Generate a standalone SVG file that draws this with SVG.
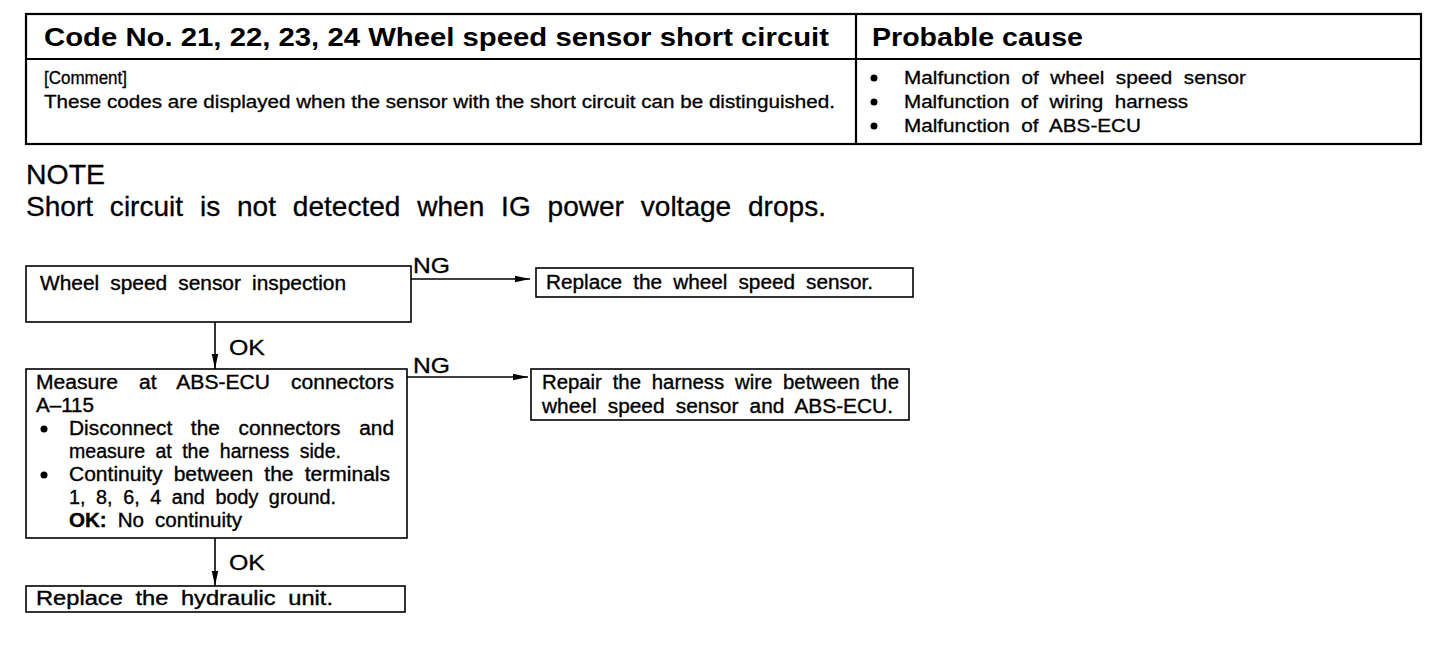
<svg xmlns="http://www.w3.org/2000/svg" width="1456" height="650" viewBox="0 0 1456 650">
<style>
text{font-family:"Liberation Sans",Arial,sans-serif;fill:#000}
.hd{font-size:26px;font-weight:bold}
.sm{font-size:18px;stroke:#000;stroke-width:0.3}
.ws{word-spacing:5px}
.fc{font-size:19.5px;stroke:#000;stroke-width:0.35;word-spacing:5px}
.lb{font-size:22px;stroke:#000;stroke-width:0.3}
.nt{font-size:28px;stroke:#000;stroke-width:0.3}
.wn{word-spacing:9px}
.box{fill:#fff;stroke:#000;stroke-width:1.6}
.tb{fill:none;stroke:#000;stroke-width:2.2}
.cn{fill:none;stroke:#000;stroke-width:1.6}
</style>
<defs>
<marker id="ah" viewBox="0 0 15 8" refX="15" refY="4" markerWidth="15" markerHeight="8" markerUnits="userSpaceOnUse" orient="auto">
<path d="M0,0.8 L15,4 L0,7.2 Z" fill="#000"/>
</marker>
</defs>
<rect width="1456" height="650" fill="#fff"/>

<g id="table">
<rect class="tb" x="26" y="14" width="1395" height="130"/>
<line class="tb" x1="26" y1="59" x2="1421" y2="59"/>
<line class="tb" x1="856" y1="14" x2="856" y2="144"/>
<text class="hd" x="44" y="46" textLength="785" lengthAdjust="spacingAndGlyphs">Code No. 21, 22, 23, 24 Wheel speed sensor short circuit</text>
<text class="hd" x="872" y="46" textLength="211" lengthAdjust="spacingAndGlyphs">Probable cause</text>
<text class="sm" x="44" y="84" textLength="83" lengthAdjust="spacingAndGlyphs">[Comment]</text>
<text class="sm" x="44" y="108" textLength="791" lengthAdjust="spacingAndGlyphs">These codes are displayed when the sensor with the short circuit can be distinguished.</text>
<circle cx="874" cy="78" r="3.5"/>
<circle cx="874" cy="102" r="3.5"/>
<circle cx="874" cy="126" r="3.5"/>
<text class="sm ws" x="904" y="84" textLength="342" lengthAdjust="spacingAndGlyphs">Malfunction of wheel speed sensor</text>
<text class="sm ws" x="904" y="108" textLength="284" lengthAdjust="spacingAndGlyphs">Malfunction of wiring harness</text>
<text class="sm ws" x="904" y="132" textLength="237" lengthAdjust="spacingAndGlyphs">Malfunction of ABS-ECU</text>
</g>

<g id="note">
<text class="nt" x="26" y="184" textLength="79" lengthAdjust="spacingAndGlyphs">NOTE</text>
<text class="nt wn" x="26" y="216" textLength="800" lengthAdjust="spacingAndGlyphs">Short circuit is not detected when IG power voltage drops.</text>
</g>

<g id="connectors">
<line class="cn" x1="411" y1="279" x2="530" y2="279" marker-end="url(#ah)"/>
<line class="cn" x1="407" y1="377" x2="528" y2="377" stroke-width="2.2" marker-end="url(#ah)"/>
<line class="cn" x1="215" y1="322" x2="215" y2="369" marker-end="url(#ah)"/>
<line class="cn" x1="215" y1="538" x2="215" y2="586" marker-end="url(#ah)"/>
<text class="lb" x="413" y="273" textLength="37" lengthAdjust="spacingAndGlyphs">NG</text>
<text class="lb" x="413" y="373" textLength="37" lengthAdjust="spacingAndGlyphs">NG</text>
<text class="lb" x="229" y="355" textLength="36" lengthAdjust="spacingAndGlyphs">OK</text>
<text class="lb" x="229" y="570" textLength="36" lengthAdjust="spacingAndGlyphs">OK</text>
</g>

<g id="n1">
<rect class="box" x="26" y="266" width="385" height="56"/>
<text class="fc" x="40" y="290" textLength="306" lengthAdjust="spacingAndGlyphs">Wheel speed sensor inspection</text>
</g>

<g id="n2">
<rect class="box" x="536" y="268" width="377" height="29"/>
<text class="fc" x="546" y="289" textLength="327" lengthAdjust="spacingAndGlyphs">Replace the wheel speed sensor.</text>
</g>

<g id="n3">
<rect class="box" x="26" y="369" width="381" height="169"/>
<text class="fc" x="36" y="389" textLength="358" lengthAdjust="spacingAndGlyphs" style="word-spacing:14px">Measure at ABS-ECU connectors</text>
<text class="fc" x="36" y="412" textLength="58" lengthAdjust="spacingAndGlyphs">A–115</text>
<circle cx="44" cy="429" r="3.5"/>
<text class="fc" x="69" y="435" textLength="325" lengthAdjust="spacingAndGlyphs" style="word-spacing:12px">Disconnect the connectors and</text>
<text class="fc" x="69" y="458" textLength="272" lengthAdjust="spacingAndGlyphs">measure at the harness side.</text>
<circle cx="44" cy="475" r="3.5"/>
<text class="fc" x="69" y="481" textLength="321" lengthAdjust="spacingAndGlyphs">Continuity between the terminals</text>
<text class="fc" x="69" y="504" textLength="267" lengthAdjust="spacingAndGlyphs">1, 8, 6, 4 and body ground.</text>
<text class="fc" x="69" y="527" textLength="173" lengthAdjust="spacingAndGlyphs"><tspan font-weight="bold">OK:</tspan> No continuity</text>
</g>

<g id="n4">
<rect class="box" x="531" y="369" width="378" height="51"/>
<text class="fc" x="542" y="389" textLength="357" lengthAdjust="spacingAndGlyphs">Repair the harness wire between the</text>
<text class="fc" x="542" y="413" textLength="351" lengthAdjust="spacingAndGlyphs">wheel speed sensor and ABS-ECU.</text>
</g>

<g id="n5">
<rect class="box" x="26" y="586" width="379" height="26"/>
<text class="fc" x="36" y="605" textLength="297" lengthAdjust="spacingAndGlyphs">Replace the hydraulic unit.</text>
</g>
</svg>
